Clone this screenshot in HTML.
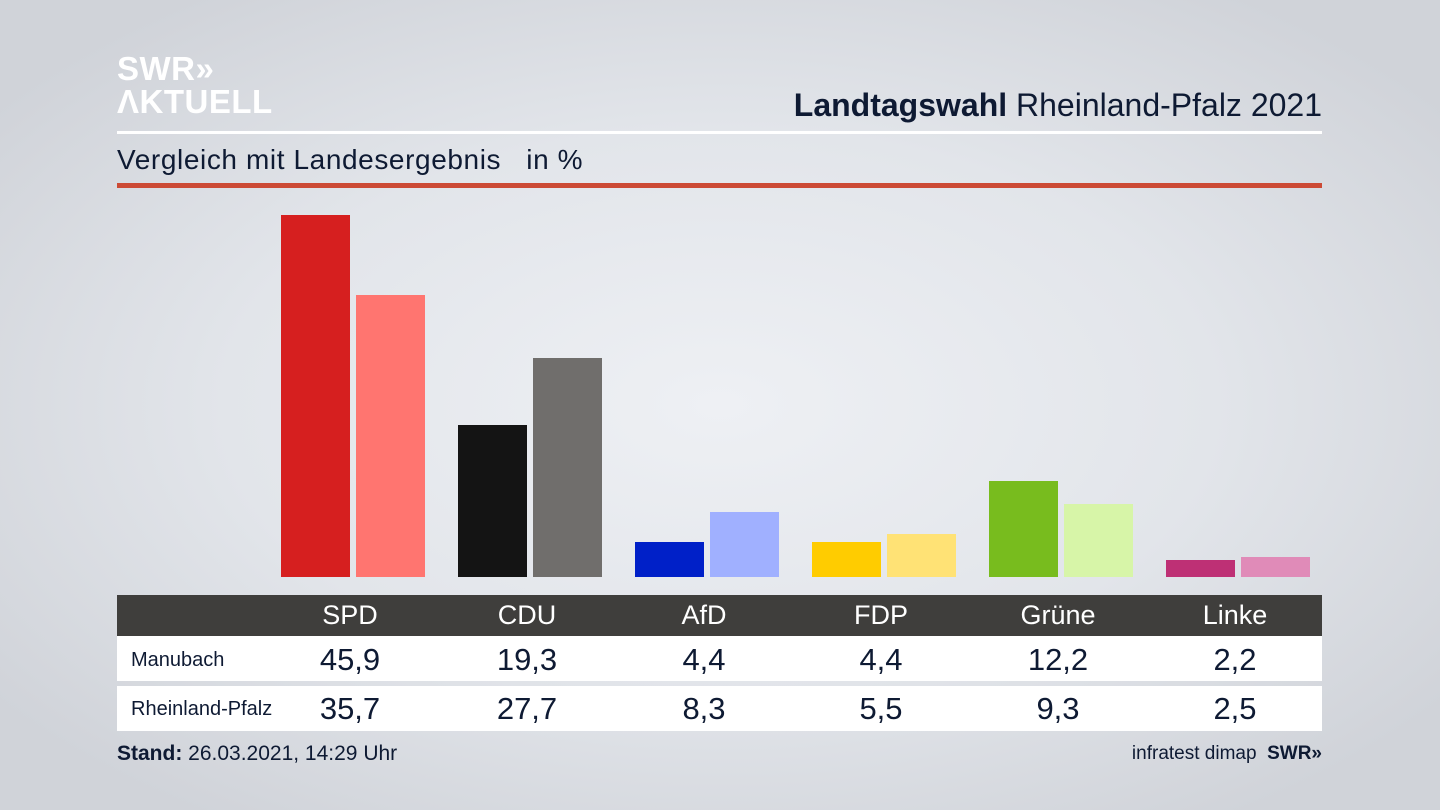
<!DOCTYPE html>
<html><head><meta charset="utf-8"><style>
*{margin:0;padding:0;box-sizing:border-box}
body{width:1440px;height:810px;overflow:hidden;position:relative;font-family:"Liberation Sans","DejaVu Sans",sans-serif;color:#0e1a33;
background:radial-gradient(ellipse 900px 500px at 50% 50%,#eef0f4 0%,#e2e5ea 55%,#d0d3d9 100%)}
.a{position:absolute}
.bar{position:absolute}
.hd{position:absolute;top:595px;left:117px;width:1205px;height:41px;background:#3f3e3c}
.row{position:absolute;left:117px;width:1205px;height:45px;background:#fff}
.c{position:absolute;width:160px;margin-left:-80px;text-align:center}
</style></head><body>
<div class="a" style="left:117px;top:52px;color:#fff;font-weight:bold;font-size:33px;line-height:33px;letter-spacing:0.5px">SWR&#187;<br>ΛKTUELL</div>
<div class="a" style="right:118px;top:87px;font-size:32px;white-space:nowrap"><b>Landtagswahl</b> Rheinland-Pfalz 2021</div>
<div class="a" style="left:117px;top:131px;width:1205px;height:3px;background:#fff"></div>
<div class="a" style="left:117px;top:144px;font-size:28px;white-space:nowrap;letter-spacing:0.6px">Vergleich mit Landesergebnis &nbsp; in %</div>
<div class="a" style="left:117px;top:183px;width:1205px;height:5px;background:#cc4a35"></div>

<div class="bar" style="left:281px;top:215px;width:69px;height:362px;background:#d61f1f"></div>
<div class="bar" style="left:356px;top:295px;width:69px;height:282px;background:#ff7570"></div>
<div class="bar" style="left:458px;top:425px;width:69px;height:152px;background:#141414"></div>
<div class="bar" style="left:533px;top:358px;width:69px;height:219px;background:#706e6c"></div>
<div class="bar" style="left:635px;top:542px;width:69px;height:35px;background:#0020c8"></div>
<div class="bar" style="left:710px;top:512px;width:69px;height:65px;background:#a0b0ff"></div>
<div class="bar" style="left:812px;top:542px;width:69px;height:35px;background:#ffcc00"></div>
<div class="bar" style="left:887px;top:534px;width:69px;height:43px;background:#ffe275"></div>
<div class="bar" style="left:989px;top:481px;width:69px;height:96px;background:#78bc1e"></div>
<div class="bar" style="left:1064px;top:504px;width:69px;height:73px;background:#d7f5a8"></div>
<div class="bar" style="left:1166px;top:560px;width:69px;height:17px;background:#be3075"></div>
<div class="bar" style="left:1241px;top:557px;width:69px;height:20px;background:#e08bb8"></div>

<div class="hd"></div>
<div class="row" style="top:636px"></div>
<div class="row" style="top:686px"></div>
<div class="a" style="left:131px;top:649px;font-size:20px">Manubach</div>
<div class="a" style="left:131px;top:698px;font-size:20px">Rheinland-Pfalz</div>

<div class="a" style="left:0;top:0;width:1440px;height:810px">
<div class="c" style="left:350px;top:600px;color:#fff;font-size:27px">SPD</div>
<div class="c" style="left:527px;top:600px;color:#fff;font-size:27px">CDU</div>
<div class="c" style="left:704px;top:600px;color:#fff;font-size:27px">AfD</div>
<div class="c" style="left:881px;top:600px;color:#fff;font-size:27px">FDP</div>
<div class="c" style="left:1058px;top:600px;color:#fff;font-size:27px">Grüne</div>
<div class="c" style="left:1235px;top:600px;color:#fff;font-size:27px">Linke</div>
<div class="c" style="left:350px;top:642px;font-size:31px">45,9</div>
<div class="c" style="left:527px;top:642px;font-size:31px">19,3</div>
<div class="c" style="left:704px;top:642px;font-size:31px">4,4</div>
<div class="c" style="left:881px;top:642px;font-size:31px">4,4</div>
<div class="c" style="left:1058px;top:642px;font-size:31px">12,2</div>
<div class="c" style="left:1235px;top:642px;font-size:31px">2,2</div>
<div class="c" style="left:350px;top:691px;font-size:31px">35,7</div>
<div class="c" style="left:527px;top:691px;font-size:31px">27,7</div>
<div class="c" style="left:704px;top:691px;font-size:31px">8,3</div>
<div class="c" style="left:881px;top:691px;font-size:31px">5,5</div>
<div class="c" style="left:1058px;top:691px;font-size:31px">9,3</div>
<div class="c" style="left:1235px;top:691px;font-size:31px">2,5</div>
</div>

<div class="a" style="left:117px;top:742px;font-size:21px;white-space:nowrap"><b>Stand:</b> 26.03.2021, 14:29 Uhr</div>
<div class="a" style="right:118px;top:743px;font-size:19px;white-space:nowrap">infratest dimap &nbsp;<b>SWR&#187;</b></div>
</body></html>
